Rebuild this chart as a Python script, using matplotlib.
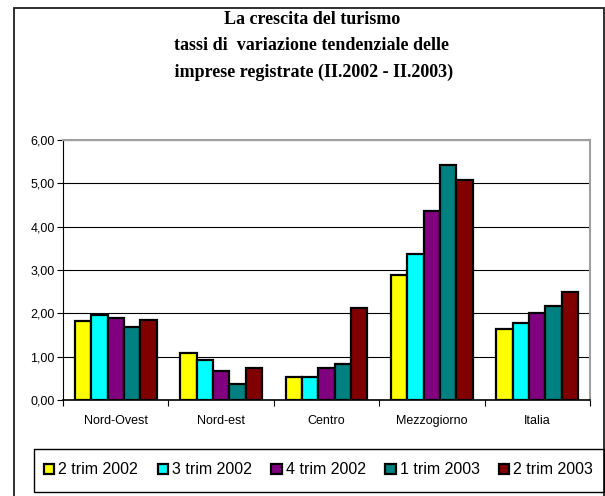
import matplotlib
matplotlib.use("Agg")
import matplotlib.pyplot as plt
import numpy as np
from matplotlib.patches import Rectangle

categories = ["Nord-Ovest", "Nord-est", "Centro", "Mezzogiorno", "Italia"]
series_names = ["2 trim 2002", "3 trim 2002", "4 trim 2002", "1 trim 2003", "2 trim 2003"]
s_2t2002 = [1.83, 1.08, 0.53, 2.88, 1.64]
s_3t2002 = [1.96, 0.92, 0.54, 3.38, 1.78]
s_4t2002 = [1.90, 0.67, 0.75, 4.37, 2.00]
s_1t2003 = [1.68, 0.37, 0.82, 5.42, 2.16]
s_2t2003 = [1.85, 0.73, 2.13, 5.08, 2.49]
colors = ["#ffff00", "#00ffff", "#800080", "#008080", "#800000"]
yticks = [0, 1, 2, 3, 4, 5, 6]
ytick_labels = ["0,00", "1,00", "2,00", "3,00", "4,00", "5,00", "6,00"]

W, H = 605, 496
fig = plt.figure(figsize=(W / 100, H / 100), dpi=100)

# outer frame (bottom extends beyond the image like the reference)
fig.patches.append(Rectangle((13.5 / W, 1 - 520 / H), (603.5 - 13.5) / W, (520 - 7.5) / H,
                             transform=fig.transFigure, fill=False, ec="#202020", lw=1.3))
# legend frame
fig.patches.append(Rectangle((34 / W, 1 - 492 / H), (603.5 - 34) / W, (492 - 449) / H,
                             transform=fig.transFigure, fill=False, ec="black", lw=1.0))

title_kw = dict(ha="center", va="center", family="Liberation Serif", fontweight="bold", fontsize=13)
fig.text(312 / W, 1 - 20 / H, "La crescita del turismo", **title_kw)
fig.text(312 / W, 1 - 45 / H, "tassi di  variazione tendenziale delle", **title_kw)
fig.text(312 / W, 1 - 72 / H, " imprese registrate (II.2002 - II.2003)", **title_kw)

ax = fig.add_axes([63 / W, 1 - 400 / H, (590 - 63) / W, (400 - 140) / H])
series = [s_2t2002, s_3t2002, s_4t2002, s_1t2003, s_2t2003]
x = np.arange(len(categories))
bw = 0.155
handles = []
for i, (vals, c, name) in enumerate(zip(series, colors, series_names)):
    b = ax.bar(x + (i - 2) * bw, vals, width=bw, color=c, edgecolor="black", lw=1.6,
               label=name, zorder=3)
    handles.append(b)

ax.set_xlim(-0.5, len(categories) - 0.5)
ax.set_ylim(0, 6)
ax.set_yticks(yticks)
ax.set_yticklabels(ytick_labels, family="Liberation Sans", fontsize=9)
ax.set_xticks(x)
ax.set_xticklabels(categories, family="Liberation Sans", fontsize=9)
ax.tick_params(axis="x", length=0, pad=11)
ax.set_xticks(np.arange(-0.5, len(categories)), minor=True)
ax.tick_params(axis="x", which="minor", length=4, width=0.8, direction="out")
ax.tick_params(axis="y", length=4, width=0.8, direction="out", pad=2)
ax.yaxis.grid(True, color="black", lw=0.8, zorder=0)
ax.set_axisbelow(True)
for side in ["top", "right"]:
    ax.spines[side].set_color("#a0a0a0")
    ax.spines[side].set_linewidth(1.5)
ax.spines["left"].set_color("black")
ax.spines["bottom"].set_color("black")
ax.spines["bottom"].set_linewidth(1.2)

leg = fig.legend(handles=handles, labels=series_names, loc="center left",
                 bbox_to_anchor=(44 / W, 1 - 470 / H),
                 ncol=5, frameon=False,
                 prop={"family": "Liberation Sans", "size": 11.5},
                 handlelength=0.65, handleheight=0.65, handletextpad=0.25, columnspacing=1.22,
                 borderpad=0, borderaxespad=0)

fig.savefig("out.png", dpi=100)
